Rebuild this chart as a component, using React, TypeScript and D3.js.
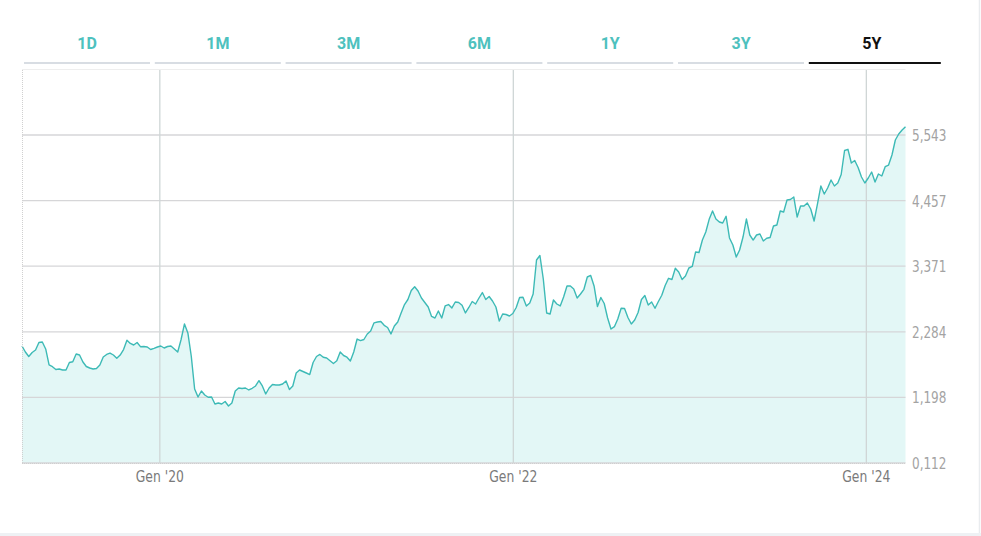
import React from "react";
import * as d3 from "d3";

const W = 981;
const H = 536;

const tabLabels = ["1D", "1M", "3M", "6M", "1Y", "3Y", "5Y"];
const activeTab = "5Y";

const startDate = "2019-03-22";
// weekly closing values
const values = [
  2.049, 1.950, 1.875, 1.942, 1.983, 2.107, 2.116, 2.000, 1.735, 1.707,
  1.660, 1.669, 1.652, 1.652, 1.776, 1.789, 1.917, 1.900, 1.784, 1.710,
  1.685, 1.669, 1.677, 1.735, 1.867, 1.909, 1.933, 1.900, 1.846, 1.900,
  1.991, 2.144, 2.091, 2.066, 2.107, 2.038, 2.041, 2.033, 1.991, 2.011,
  2.033, 2.049, 2.016, 2.041, 2.049, 2.000, 1.950, 2.157, 2.414, 2.265,
  1.884, 1.337, 1.205, 1.304, 1.238, 1.200, 1.205, 1.089, 1.105, 1.089,
  1.130, 1.056, 1.105, 1.304, 1.354, 1.346, 1.354, 1.321, 1.349, 1.387,
  1.475, 1.387, 1.255, 1.354, 1.412, 1.404, 1.404, 1.420, 1.470, 1.329,
  1.387, 1.602, 1.652, 1.627, 1.602, 1.577, 1.776, 1.875, 1.909, 1.862,
  1.851, 1.806, 1.760, 1.804, 1.950, 1.892, 1.864, 1.801, 1.950, 2.165,
  2.139, 2.157, 2.248, 2.298, 2.433, 2.447, 2.455, 2.392, 2.356, 2.248,
  2.380, 2.447, 2.596, 2.736, 2.819, 2.968, 3.031, 2.960, 2.844, 2.770,
  2.695, 2.538, 2.513, 2.629, 2.513, 2.712, 2.736, 2.679, 2.778, 2.770,
  2.723, 2.596, 2.687, 2.786, 2.745, 2.844, 2.935, 2.819, 2.869, 2.794,
  2.695, 2.463, 2.579, 2.571, 2.546, 2.587, 2.687, 2.852, 2.856, 2.712,
  2.761, 2.910, 3.473, 3.548, 3.159, 2.596, 2.579, 2.811, 2.745, 2.712,
  2.861, 3.043, 3.043, 2.993, 2.844, 2.910, 2.988, 3.192, 3.217, 3.043,
  2.703, 2.852, 2.753, 2.513, 2.331, 2.369, 2.496, 2.674, 2.670, 2.521,
  2.414, 2.480, 2.604, 2.819, 2.885, 2.728, 2.778, 2.674, 2.786, 2.889,
  3.051, 3.170, 3.150, 3.336, 3.275, 3.150, 3.208, 3.341, 3.366, 3.606,
  3.597, 3.804, 3.937, 4.147, 4.285, 4.152, 4.103, 4.086, 4.197, 3.838,
  3.722, 3.523, 3.639, 3.854, 4.152, 3.887, 3.804, 3.887, 3.904, 3.788,
  3.833, 3.846, 4.036, 4.053, 4.285, 4.268, 4.467, 4.475, 4.516, 4.185,
  4.367, 4.367, 4.417, 4.318, 4.119, 4.401, 4.699, 4.566, 4.665, 4.798,
  4.699, 4.748, 4.889, 5.286, 5.306, 5.079, 5.121, 5.005, 4.848, 4.748,
  4.831, 4.930, 4.765, 4.897, 4.864, 5.018, 5.046, 5.212, 5.460, 5.560,
  5.626, 5.681,
];

const yTicks = [0.112, 1.198, 2.284, 3.371, 4.457, 5.543];
const monthShort = ["Gen", "Feb", "Mar", "Apr", "Mag", "Giu", "Lug", "Ago", "Set", "Ott", "Nov", "Dic"];

const itLocale = d3.formatLocale({ decimal: ",", thousands: ".", grouping: [3], currency: ["€", ""] });
const fmtY = itLocale.format(".3f");

const t0 = new Date(startDate + "T00:00:00");
const data = values.map((v, i) => ({ date: d3.timeDay.offset(t0, i * 7), value: v }));

const plot = { left: 22, right: 905.5, top: 70, bottom: 463 };

export default function App() {
  const x = d3
    .scaleTime()
    .domain(d3.extent(data, (d) => d.date) as [Date, Date])
    .range([plot.left, plot.right]);
  const y = d3.scaleLinear().domain([yTicks[0], yTicks[yTicks.length - 1]]).range([plot.bottom, 135]);

  const line = d3
    .line<{ date: Date; value: number }>()
    .x((d) => x(d.date))
    .y((d) => y(d.value))
    .curve(d3.curveLinear);
  const area = d3
    .area<{ date: Date; value: number }>()
    .x((d) => x(d.date))
    .y0(plot.bottom)
    .y1((d) => y(d.value))
    .curve(d3.curveLinear);

  const xTicks = x.ticks(d3.timeYear.every(2)!).filter((d) => d >= x.domain()[0]);

  const tabStart = 24;
  const tabPitch = 130.8;
  const tabW = 126;

  const font = "'DejaVu Sans Condensed', 'DejaVu Sans', sans-serif";

  return (
    <svg
      width={W}
      height={H}
      style={{ position: "absolute", left: 0, top: 0, background: "#fff" }}
    >
      {/* tabs */}
      {tabLabels.map((t, i) => {
        const x0 = tabStart + i * tabPitch;
        const active = t === activeTab;
        return (
          <g key={t}>
            <text
              x={x0 + tabW / 2}
              y={49}
              textAnchor="middle"
              fontFamily="Roboto, 'Open Sans', sans-serif"
              fontWeight={700}
              fontSize={16}
              fill={active ? "#111" : "#4ec1be"}
            >
              {t}
            </text>
            <rect
              x={x0}
              y={62}
              width={active ? tabW + 6 : tabW}
              height={2}
              fill={active ? "#111" : "#d8dde3"}
            />
          </g>
        );
      })}

      {/* card borders */}
      <line x1={22} x2={plot.right} y1={69.5} y2={69.5} stroke="#eeeeee" strokeWidth={1} />
      <line x1={979.5} x2={979.5} y1={0} y2={533} stroke="#e9ecef" strokeWidth={1.5} />
      <rect x={0} y={533} width={W} height={3} fill="#eef1f4" />

      {/* area */}
      <path d={area(data) || ""} fill="#e3f7f6" />

      {/* horizontal grid */}
      {yTicks.map((t) => (
        <line
          key={t}
          x1={plot.left}
          x2={plot.right}
          y1={y(t)}
          y2={y(t)}
          stroke="#d6d6d8"
          strokeWidth={1.3}
        />
      ))}
      {/* vertical grid */}
      {xTicks.map((d) => (
        <line
          key={+d}
          x1={x(d)}
          x2={x(d)}
          y1={plot.top}
          y2={plot.bottom}
          stroke="#cfd6d6"
          strokeWidth={1.3}
        />
      ))}

      <path d={line(data) || ""} fill="none" stroke="#3dbab6" strokeWidth={1.4} strokeLinejoin="round" />

      {/* left & bottom dotted borders */}
      <line x1={22.5} x2={22.5} y1={plot.top} y2={plot.bottom} stroke="#d0d0d0" strokeWidth={1} strokeDasharray="1,1" />
      <line x1={plot.left} x2={plot.right} y1={463.5} y2={463.5} stroke="#cfcfcf" strokeWidth={1} strokeDasharray="1,1" />

      {/* y labels */}
      {yTicks.map((t) => (
        <text
          key={t}
          transform={`translate(912,${y(t)}) scale(0.81,1)`}
          dy="0.36em"
          fontFamily={font}
          fontSize={16.5}
          fill="#a3a3a3"
        >
          {fmtY(t)}
        </text>
      ))}

      {/* x labels */}
      {xTicks.map((d) => (
        <text
          key={+d}
          transform={`translate(${x(d)},482) scale(0.86,1)`}
          textAnchor="middle"
          fontFamily={font}
          fontSize={16}
          fill="#7a7a7a"
        >
          {`${monthShort[d.getMonth()]} '${String(d.getFullYear()).slice(2)}`}
        </text>
      ))}
    </svg>
  );
}
